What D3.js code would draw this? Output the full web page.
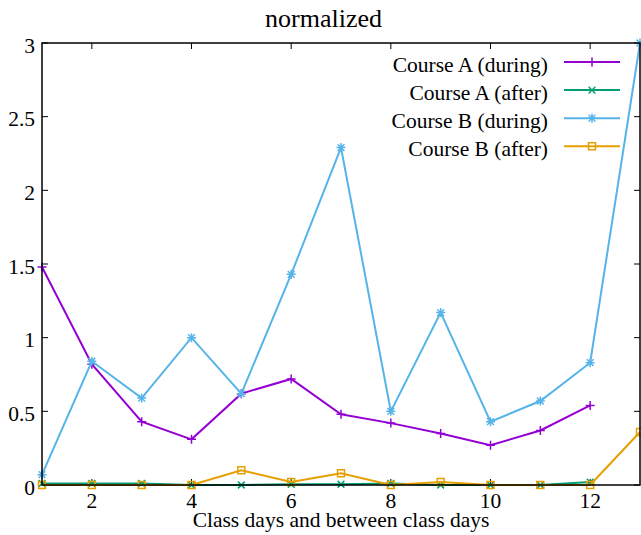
<!DOCTYPE html>
<html lang="en">
<head>
<meta charset="UTF-8">
<title>normalized</title>
<script src="https://cdn.jsdelivr.net/npm/d3@7"></script>
<style>
  body { margin: 0; background: #fff; }
</style>
</head>
<body>
<svg width="641" height="535"></svg>
<script>
    // values
    var days = [1, 2, 3, 4, 5, 6, 7, 8, 9, 10, 11, 12, 13];
    var aDuring = [1.48, 0.82, 0.43, 0.31, 0.62, 0.72, 0.48, 0.42, 0.35, 0.27, 0.37, 0.54];
    var aAfter = [0.01, 0.01, 0.01, 0.0, 0.0, 0.005, 0.005, 0.01, 0.0, 0.0, 0.0, 0.02];
    var bDuring = [0.07, 0.84, 0.59, 1.0, 0.62, 1.43, 2.29, 0.50, 1.17, 0.43, 0.57, 0.83, 3.0];
    var bAfter = [0.0, 0.0, 0.0, 0.0, 0.10, 0.02, 0.08, 0.0, 0.02, 0.0, 0.0, 0.0, 0.36];
    var seriesNames = ["Course A (during)", "Course A (after)", "Course B (during)", "Course B (after)"];
    var xTicks = [2, 4, 6, 8, 10, 12];
    var yTicks = [0, 0.5, 1, 1.5, 2, 2.5, 3];

    var series = [
        {name: seriesNames[0], values: aDuring, color: "#9400d3", symbol: "plus"},
        {name: seriesNames[1], values: aAfter, color: "#009e73", symbol: "cross"},
        {name: seriesNames[2], values: bDuring, color: "#56b4e9", symbol: "star"},
        {name: seriesNames[3], values: bAfter, color: "#e69f00", symbol: "square"}
    ];

    var margin = {top: 43, right: 1, bottom: 50, left: 42},
        width = 641, height = 535;
    var serif = '"Liberation Serif", "Times New Roman", serif';

    var svg = d3.select("svg");

    var x = d3.scaleLinear().domain([1, 13]).range([margin.left, width - margin.right]);
    var y = d3.scaleLinear().domain([0, 3]).range([height - margin.bottom, margin.top]);

    // draws a gnuplot-ish point symbol
    function symbol(g, type, color) {
        var s = 4.5;
        var p = g.append("path")
            .attr("fill", "none")
            .attr("stroke", color)
            .attr("stroke-width", 1.5);
        if (type == "plus") p.attr("d", `M${-s},0H${s}M0,${-s}V${s}`);
        if (type == "cross") p.attr("d", `M${-s*0.75},${-s*0.75}L${s*0.75},${s*0.75}M${-s*0.75},${s*0.75}L${s*0.75},${-s*0.75}`);
        if (type == "star") p.attr("d", `M${-s},0H${s}M0,${-s}V${s}M${-s*0.75},${-s*0.75}L${s*0.75},${s*0.75}M${-s*0.75},${s*0.75}L${s*0.75},${-s*0.75}`);
        if (type == "square") p.attr("d", `M${-3.5},${-3.5}h7v7h-7z`);
    }

    // ticks (inward, mirrored)
    const ax = svg.append("g").attr("stroke", "#000").attr("stroke-width", 1);
    xTicks.forEach(t => {
        ax.append("line").attr("x1", x(t)).attr("x2", x(t))
            .attr("y1", y(0)).attr("y2", y(0) - 6);
        ax.append("line").attr("x1", x(t)).attr("x2", x(t))
            .attr("y1", y(3)).attr("y2", y(3) + 6);
    });
    yTicks.forEach(t => {
        ax.append("line").attr("x1", x(1)).attr("x2", x(1) + 6)
            .attr("y1", y(t)).attr("y2", y(t));
        ax.append("line").attr("x1", x(13)).attr("x2", x(13) - 6)
            .attr("y1", y(t)).attr("y2", y(t));
    });

    svg.append("g")
        .style("font-family", serif)
        .style("font-size", "21.5px")
        .attr("text-anchor", "middle")
        .selectAll("text")
        .data(xTicks)
        .join("text")
        .attr("x", d => x(d))
        .attr("y", y(0) + 22.5)
        .text(d => d);

    svg.append("g")
        .style("font-family", serif)
        .style("font-size", "21.5px")
        .attr("text-anchor", "end")
        .selectAll("text")
        .data(yTicks)
        .join("text")
        .attr("x", x(1) - 7)
        .attr("y", d => y(d) + 9.5)
        .text(d => d);

    // series
    const line = d3.line().x((d, i) => x(days[i])).y(d => y(d));
    series.forEach(s => {
        svg.append("path")
            .attr("fill", "none")
            .attr("stroke", s.color)
            .attr("stroke-width", 2)
            .attr("d", line(s.values));
        s.values.forEach((v, i) => {
            symbol(svg.append("g").attr("transform", `translate(${x(days[i])},${y(v)})`), s.symbol, s.color);
        });
    });

    // border
    svg.append("rect")
        .attr("x", x(1)).attr("y", y(3))
        .attr("width", x(13) - x(1)).attr("height", y(0) - y(3))
        .attr("fill", "none").attr("stroke", "#000").attr("stroke-width", 1.5);

    // legend
    const legend = svg.append("g")
        .style("font-family", serif)
        .style("font-size", "21.5px");
    series.forEach((s, i) => {
        const ly = 62 + i * 28.1;
        legend.append("text")
            .attr("x", 548).attr("y", ly + 9.5)
            .attr("text-anchor", "end")
            .text(s.name);
        legend.append("line")
            .attr("x1", 564).attr("x2", 620)
            .attr("y1", ly).attr("y2", ly)
            .attr("stroke", s.color).attr("stroke-width", 2);
        symbol(legend.append("g").attr("transform", `translate(592,${ly})`), s.symbol, s.color);
    });

    svg.append("text")
        .attr("x", 323.5).attr("y", 26.5)
        .attr("text-anchor", "middle")
        .style("font-family", serif)
        .style("font-size", "26px")
        .text("normalized");

    svg.append("text")
        .attr("x", 341).attr("y", 527)
        .attr("text-anchor", "middle")
        .style("font-family", serif)
        .style("font-size", "21.5px")
        .text("Class days and between class days");
</script>
</body>
</html>
